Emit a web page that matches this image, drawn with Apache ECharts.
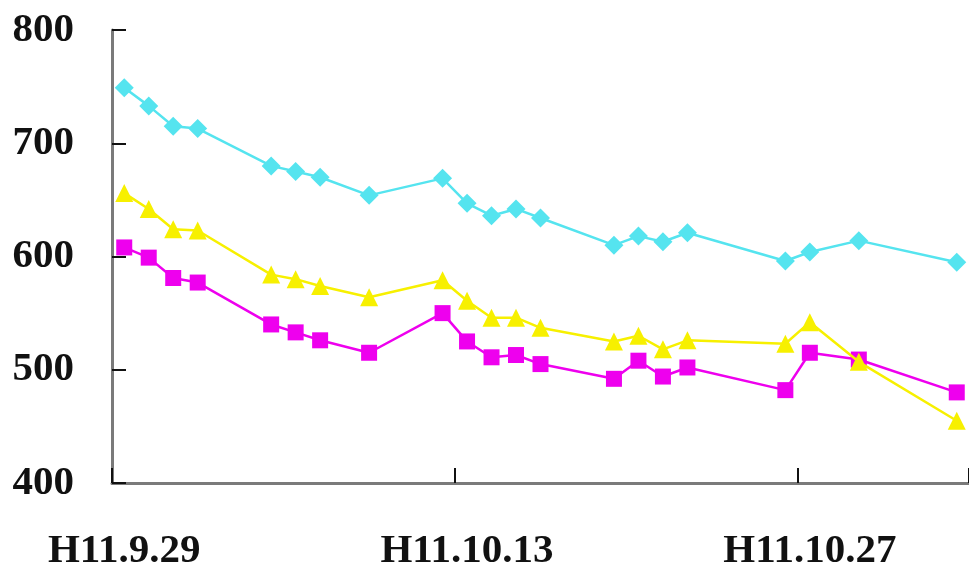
<!DOCTYPE html>
<html>
<head>
<meta charset="utf-8">
<script src="https://cdn.jsdelivr.net/npm/echarts@6/dist/echarts.min.js"></script>
<style>html,body{margin:0;padding:0;background:#fff;}#c{width:969px;height:572px;}</style>
</head>
<body>
<div id="c"></div>
<script>
// Axis categories: every calendar day shown on the date axis
var axisDays = ["H11.9.29","H11.9.30","H11.10.1","H11.10.2","H11.10.3","H11.10.4","H11.10.5","H11.10.6","H11.10.7","H11.10.8","H11.10.9","H11.10.10","H11.10.11","H11.10.12","H11.10.13","H11.10.14","H11.10.15","H11.10.16","H11.10.17","H11.10.18","H11.10.19","H11.10.20","H11.10.21","H11.10.22","H11.10.23","H11.10.24","H11.10.25","H11.10.26","H11.10.27","H11.10.28","H11.10.29","H11.10.30","H11.10.31","H11.11.1","H11.11.2"];
// Observation dates
var obsDays = ["H11.9.29","H11.9.30","H11.10.1","H11.10.2","H11.10.5","H11.10.6","H11.10.7","H11.10.9","H11.10.12","H11.10.13","H11.10.14","H11.10.15","H11.10.16","H11.10.19","H11.10.20","H11.10.21","H11.10.22","H11.10.26","H11.10.27","H11.10.29","H11.11.2"];
var cyanValues    = [749, 733, 715, 713, 680, 675, 670, 654, 669, 647, 636, 642, 634, 610, 618, 613, 621, 596, 604, 614, 595];
var yellowValues  = [656, 642, 624, 623, 584, 580, 574, 564, 579, 561, 546, 546, 537, 525, 530, 518, 526, 523, 542, 507, 455];
var magentaValues = [608, 599, 581, 577, 540, 533, 526, 515, 550, 525, 511, 513, 505, 492, 508, 494, 502, 482, 515, 509, 480];
var yTicks = [400, 500, 600, 700, 800];

function toSeries(vals){
  var out = axisDays.map(function(){ return null; });
  obsDays.forEach(function(d, i){ out[axisDays.indexOf(d)] = vals[i]; });
  return out;
}

var font = '"Liberation Serif", "Times New Roman", serif';
var chart = echarts.init(document.getElementById('c'), null, {renderer:'canvas'});
chart.setOption({
  animation: false,
  backgroundColor: '#ffffff',
  grid: {left: 112, top: 30, width: 859, height: 457, containLabel: false},
  xAxis: {
    type: 'category',
    data: axisDays,
    boundaryGap: true,
    axisLine: {show: true, lineStyle: {color: '#7a7a7a', width: 3}},
    axisTick: {show: true, inside: true, length: 15, interval: 13, lineStyle: {color: '#111', width: 2}},
    axisLabel: {interval: 13, margin: 48, color: '#111', fontFamily: font, fontWeight: 'bold', fontSize: 41},
    splitLine: {show: false}
  },
  yAxis: {
    type: 'value',
    min: yTicks[0], max: yTicks[yTicks.length-1], interval: 100,
    axisLine: {show: true, lineStyle: {color: '#7a7a7a', width: 3}},
    axisTick: {show: true, inside: true, length: 14, lineStyle: {color: '#111', width: 2}},
    axisLabel: {margin: 38, color: '#111', fontFamily: font, fontWeight: 'bold', fontSize: 41},
    splitLine: {show: false}
  },
  series: [
    {type: 'line', data: toSeries(cyanValues), connectNulls: true, showAllSymbol: true, symbol: 'diamond', symbolSize: 19, z: 2,
     itemStyle: {color: '#55e4ef'}, lineStyle: {color: '#55e4ef', width: 2.5}},
    {type: 'line', data: toSeries(magentaValues), connectNulls: true, showAllSymbol: true, symbol: 'rect', symbolSize: 16, z: 2,
     itemStyle: {color: '#ee00ee'}, lineStyle: {color: '#ee00ee', width: 2.5}},
    {type: 'line', data: toSeries(yellowValues), connectNulls: true, showAllSymbol: true, symbol: 'triangle', symbolSize: 18, z: 3,
     itemStyle: {color: '#f7f000'}, lineStyle: {color: '#f7f000', width: 2.5}}
  ]
});
</script>
</body>
</html>
